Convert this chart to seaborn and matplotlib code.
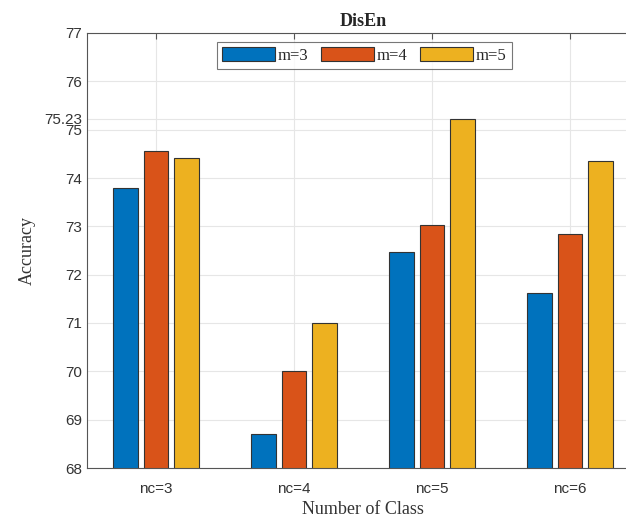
import numpy as np
import pandas as pd
import seaborn as sns
import matplotlib.pyplot as plt

# values
classes = ["nc=3", "nc=4", "nc=5", "nc=6"]
series = ["m=3", "m=4", "m=5"]
acc_m3 = [73.79, 68.70, 72.46, 71.62]
acc_m4 = [74.56, 70.01, 73.02, 72.84]
acc_m5 = [74.42, 70.99, 75.23, 74.35]
yticks = [68, 69, 70, 71, 72, 73, 74, 75, 75.23, 76, 77]
colors = ["#0072BD", "#D95319", "#EDB120"]

df = pd.DataFrame({
    "Class": classes * 3,
    "m": np.repeat(series, len(classes)),
    "Accuracy": acc_m3 + acc_m4 + acc_m5,
})

sns.set_style("white")
plt.rcParams["font.family"] = ["Liberation Sans", "DejaVu Sans"]

fig = plt.figure(figsize=(6.26, 5.18), dpi=100)
ax = fig.add_axes([87 / 626, 50 / 518, 552 / 626, 435 / 518])

sns.barplot(
    data=df, x="Class", y="Accuracy", hue="m",
    palette=colors, saturation=1, width=0.66, gap=0.18,
    edgecolor="#333333", linewidth=0.8, ax=ax,
)

ax.set_xlim(-0.5, 3.5)
ax.set_ylim(68, 77)
ax.set_yticks(yticks)
ax.set_yticklabels([f"{t:g}" for t in yticks])
ax.grid(True, color="#e6e6e6", linewidth=0.8)
ax.set_axisbelow(True)

ax.tick_params(axis="both", direction="in", length=4, color="#555555",
               labelsize=11, labelcolor="#333333", top=True)
ax.tick_params(axis="x", pad=10)
for s in ["left", "bottom", "top"]:
    ax.spines[s].set_color("#555555")
    ax.spines[s].set_linewidth(0.8)
ax.spines["right"].set_visible(False)

ax.set_title("DisEn", fontfamily="Liberation Serif", fontweight="bold",
             fontsize=13, pad=5)
ax.set_xlabel("Number of Class", fontfamily="Liberation Serif", fontsize=13,
              color="#333333", labelpad=4)
ax.set_ylabel("Accuracy", fontfamily="Liberation Serif", fontsize=13,
              color="#333333", labelpad=6)

leg = ax.legend(
    loc="upper left", bbox_to_anchor=(130 / 552, 1 - 9 / 435),
    ncol=3, frameon=True, fancybox=False, edgecolor="#555555",
    prop={"family": "Liberation Serif", "size": 12},
    handlelength=3.2, handleheight=0.9, columnspacing=0.75,
    handletextpad=0.15, borderpad=0.3, borderaxespad=0,
)
leg.get_frame().set_linewidth(0.8)

fig.savefig("out.png", dpi=100)
